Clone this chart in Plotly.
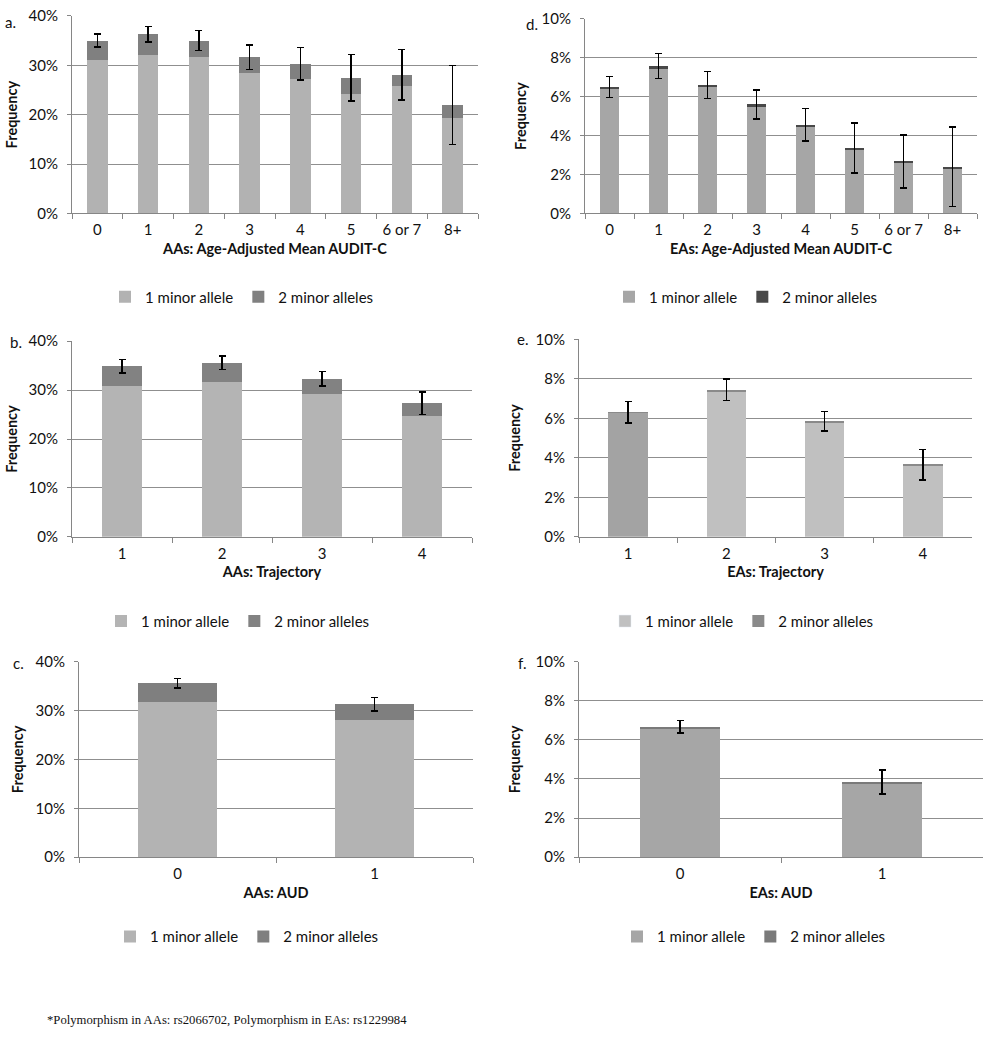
import plotly.graph_objects as go

# ---- data (percent) ----
audit_cats = ["0", "1", "2", "3", "4", "5", "6 or 7", "8+"]
traj_cats = ["1", "2", "3", "4"]
aud_cats = ["0", "1"]

# a. AAs: age-adjusted mean AUDIT-C
aa_audit_one = [31.0, 32.0, 31.6, 28.5, 27.3, 24.2, 25.8, 19.3]
aa_audit_two = [4.0, 4.3, 3.4, 3.1, 3.0, 3.3, 2.3, 2.7]
aa_audit_err = [1.3, 1.6, 2.0, 2.5, 3.3, 4.7, 5.1, 8.0]

# d. EAs: age-adjusted mean AUDIT-C
ea_audit_one = [6.42, 7.48, 6.52, 5.52, 4.48, 3.3, 2.62, 2.34]
ea_audit_two = [0.08, 0.1, 0.08, 0.08, 0.08, 0.06, 0.05, 0.06]
ea_audit_err = [0.55, 0.65, 0.7, 0.75, 0.83, 1.28, 1.36, 2.05]

# b. AAs: trajectory
aa_traj_one = [30.9, 31.7, 29.2, 24.8]
aa_traj_two = [4.0, 3.9, 3.1, 2.5]
aa_traj_err = [1.35, 1.4, 1.5, 2.3]

# e. EAs: trajectory
ea_traj_one = [6.28, 7.34, 5.77, 3.59]
ea_traj_two = [0.02, 0.11, 0.08, 0.06]
ea_traj_err = [0.55, 0.55, 0.5, 0.77]

# c. AAs: AUD
aa_aud_one = [31.8, 28.0]
aa_aud_two = [3.8, 3.3]
aa_aud_err = [1.0, 1.4]

# f. EAs: AUD
ea_aud_one = [6.62, 3.8]
ea_aud_two = [0.05, 0.05]
ea_aud_err = [0.32, 0.61]

W, H = 983, 1050
FONT = "Lato, 'Open Sans', sans-serif"
INK = "#111111"
AXIS_GREY = "#868686"
GRID_GREY = "#8f8f8f"


def px_x(x):
    return x / W


def px_y(y):
    return 1 - y / H


fig = go.Figure()

panels = [
    dict(cats=audit_cats, one=aa_audit_one, two=aa_audit_two, err=aa_audit_err,
         c1="#b2b2b2", c2="#808080", xd=(72, 478), yd=(6, 207), ymax=40, dtick=10,
         xtitle="AAs: Age-Adjusted Mean AUDIT-C", leg=(242, 292), lab=(3, 12, "a."), standoff=7),
    dict(cats=audit_cats, one=ea_audit_one, two=ea_audit_two, err=ea_audit_err,
         c1="#a6a6a6", c2="#484848", xd=(585, 977), yd=(9, 207), ymax=10, dtick=2,
         xtitle="EAs: Age-Adjusted Mean AUDIT-C", leg=(746, 292), lab=(524, 14, "d."), standoff=11),
    dict(cats=traj_cats, one=aa_traj_one, two=aa_traj_two, err=aa_traj_err,
         c1="#b4b4b4", c2="#828282", xd=(72, 472), yd=(337, 536), ymax=40, dtick=10,
         xtitle="AAs: Trajectory", leg=(238, 622), lab=(8, 338, "b."), standoff=7),
    dict(cats=traj_cats, one=ea_traj_one, two=ea_traj_two, err=ea_traj_err,
         c1=["#a3a3a3", "#c0c0c0", "#c0c0c0", "#c0c0c0"], c2="#8a8a8a",
         xd=(579, 972), yd=(335, 536), ymax=10, dtick=2,
         xtitle="EAs: Trajectory", leg=(742, 622), lab=(515, 335, "e."), standoff=11),
    dict(cats=aud_cats, one=aa_aud_one, two=aa_aud_two, err=aa_aud_err,
         c1="#b3b3b3", c2="#7f7f7f", xd=(79, 473), yd=(663, 862), ymax=40, dtick=10,
         xtitle="AAs: AUD", leg=(247, 943), lab=(11, 664, "c."), standoff=8),
    dict(cats=aud_cats, one=ea_aud_one, two=ea_aud_two, err=ea_aud_err,
         c1="#a6a6a6", c2="#7a7a7a", xd=(579, 983), yd=(663, 862), ymax=10, dtick=2,
         xtitle="EAs: AUD", leg=(754, 943), lab=(516, 664, "f."), standoff=11),
]

layout = {}
annotations = []
for i, p in enumerate(panels, start=1):
    sfx = "" if i == 1 else str(i)
    leg = "legend" if i == 1 else f"legend{i}"
    mixed = isinstance(p["c1"], list)

    fig.add_trace(go.Bar(
        x=p["cats"], y=p["one"], name="1 minor allele",
        marker=dict(color=p["c1"], line=dict(width=0)),
        xaxis=f"x{sfx}", yaxis=f"y{sfx}", legend=leg, legendrank=1,
        showlegend=not mixed, hoverinfo="skip",
    ))
    if mixed:
        # legend swatch in the light series colour (first bar is shaded differently)
        fig.add_trace(go.Bar(
            x=[None], y=[None], name="1 minor allele",
            marker=dict(color=p["c1"][-1]), xaxis=f"x{sfx}", yaxis=f"y{sfx}",
            legend=leg, legendrank=1, hoverinfo="skip",
        ))
    fig.add_trace(go.Bar(
        x=p["cats"], y=p["two"], name="2 minor alleles",
        marker=dict(color=p["c2"], line=dict(width=0)),
        error_y=dict(type="data", array=p["err"], color="black", thickness=1.5, width=3.5),
        xaxis=f"x{sfx}", yaxis=f"y{sfx}", legend=leg, legendrank=2, hoverinfo="skip",
    ))

    layout[f"xaxis{sfx}"] = dict(
        domain=[px_x(p["xd"][0]), px_x(p["xd"][1])], anchor=f"y{sfx}",
        type="category", categoryorder="array", categoryarray=p["cats"],
        showline=True, linecolor=AXIS_GREY, linewidth=1,
        ticks="outside", tickson="boundaries", ticklen=5, tickcolor=AXIS_GREY,
        ticklabelstandoff=3,
        showgrid=False, tickfont=dict(size=15, color=INK),
        title=dict(text=p["xtitle"], font=dict(size=14.5, weight="bold", color=INK), standoff=6),
        fixedrange=True,
    )
    layout[f"yaxis{sfx}"] = dict(
        domain=[px_y(p["yd"][1]), px_y(p["yd"][0])], anchor=f"x{sfx}",
        range=[0, p["ymax"]], dtick=p["dtick"], ticksuffix="%",
        showline=True, linecolor=AXIS_GREY, linewidth=1,
        ticks="outside", ticklen=4, tickcolor=AXIS_GREY, ticklabelstandoff=6,
        showgrid=True, gridcolor=GRID_GREY, gridwidth=1, zeroline=False,
        tickfont=dict(size=15, color=INK),
        title=dict(text="Frequency", font=dict(size=14.5, weight="bold", color=INK),
                   standoff=p["standoff"]),
        fixedrange=True,
    )
    layout[leg] = dict(
        x=px_x(p["leg"][0]), y=px_y(p["leg"][1]), xanchor="center", yanchor="middle",
        orientation="h", font=dict(size=15, color=INK), itemwidth=30,
        bgcolor="rgba(0,0,0,0)", traceorder="normal",
    )
    annotations.append(dict(
        text=p["lab"][2], x=px_x(p["lab"][0]), y=px_y(p["lab"][1]),
        xref="paper", yref="paper", xanchor="left", yanchor="middle",
        showarrow=False, font=dict(size=15, color=INK),
    ))

annotations.append(dict(
    text="*Polymorphism in AAs: rs2066702, Polymorphism in EAs: rs1229984",
    x=px_x(45), y=px_y(1028), xref="paper", yref="paper",
    xanchor="left", yanchor="middle", showarrow=False,
    font=dict(family="'Liberation Serif', 'Times New Roman', serif", size=12.7, color=INK),
))

fig.update_layout(
    width=W, height=H, autosize=False,
    margin=dict(l=0, r=0, t=0, b=0),
    paper_bgcolor="white", plot_bgcolor="white",
    font=dict(family=FONT, color=INK),
    barmode="stack", bargap=0.6,
    annotations=annotations,
    **layout,
)

# page body has a default 8px margin; drop it so the figure fills the window
fig.write_html(
    "out.html",
    config={"displayModeBar": False},
    post_script="document.body.style.margin='0';",
)
